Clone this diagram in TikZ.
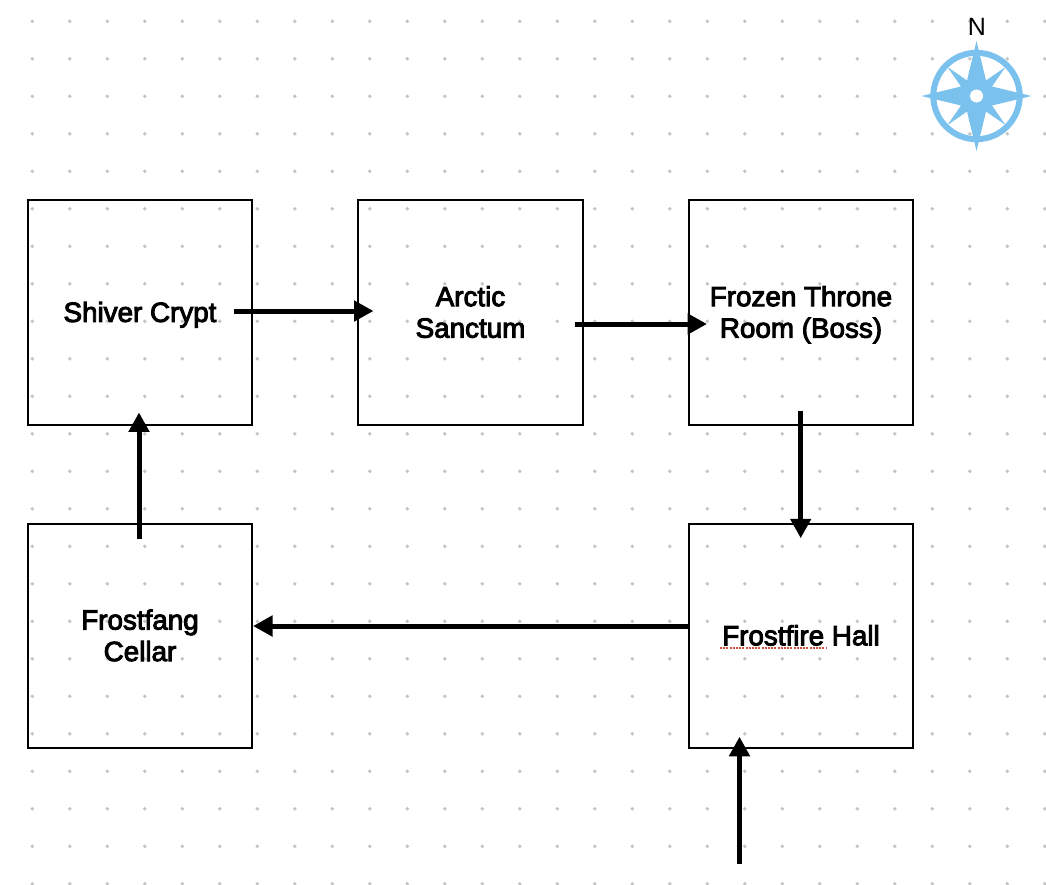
\documentclass[tikz,border=0pt]{standalone}
\usepackage{fontspec}
\setmainfont{Liberation Sans}
\newfontfamily\labelfont[FakeBold=3.4]{Liberation Sans}
\usetikzlibrary{arrows.meta,calc}
\newcommand{\roomtop}{\rule{0pt}{28.05pt}}
\definecolor{griddot}{HTML}{C4C4C4}
\definecolor{compassblue}{HTML}{7BC1EE}
\definecolor{spellred}{HTML}{D9503F}
\tikzset{
  room/.style={draw=black,line width=2pt,minimum width=224pt,minimum height=224.7pt,inner sep=0pt,outer sep=0pt,align=center,font=\labelfont\fontsize{27.8}{31.5}\selectfont,text=black},
  link/.style={draw=black,line width=5pt,-{Triangle[length=19.5pt,width=20pt]}},
}
\begin{document}
\begin{tikzpicture}[x=1pt,y=-1pt]
\useasboundingbox (0,0) rectangle (1046,884);
\fill[white] (0,0) rectangle (1046,884);
\foreach \i in {0,...,27}{\foreach \j in {0,...,23}{
  \fill[griddot] ({32.3+37.5*\i},{21.3+37.5*\j}) circle (1.9pt);
}}
\node[room] (shiver) at (140,312.6) {\roomtop Shiver Crypt\strut};
\node[room,minimum width=225pt] (arctic) at (470.5,312.6) {\roomtop Arctic\strut\\\strut Sanctum\strut};
\node[room] (frozen) at (801,312.6) {\roomtop Frozen Throne\strut\\\strut Room (Boss)\strut};
\node[room,minimum height=223.5pt] (cellar) at (140,636) {\roomtop Frostfang\strut\\\strut Cellar\strut};
\node[room,minimum height=223.5pt] (hall) at (801,636) {\roomtop Frostfire Hall\strut};
\coordinate (entry) at (739.5,864);
\draw[link] ($(shiver.east)+(-18,-1.6)$) -- ($(arctic.west)+(15.5,-1.6)$);
\draw[link] ($(arctic.east)+(-8,11.4)$) -- ($(frozen.west)+(18,11.4)$);
\draw[link] ($(frozen.south)+(-0.3,-14)$) -- ($(hall.north)+(-0.3,14)$);
\draw[link] ($(hall.west)+(0,-10)$) -- ($(cellar.east)+(1,-10)$);
\draw[link] ($(cellar.north)+(-1,15)$) -- ($(shiver.south)+(-1,-12.5)$);
\draw[link] (entry) -- ($(entry |- hall.south)+(0,-11)$);
\draw[spellred,line width=2pt,dash pattern=on 2pt off 1.2pt] (720,648.3) -- (826,648.3);
% compass
\coordinate (c) at (976.5,96);
\draw[compassblue,line width=6pt] (c) circle (43.2pt);
\fill[compassblue] ($(c)+(0,-55)$) -- ($(c)+(-9.5,-15.5)$) -- ($(c)+(-29,-29)$) -- ($(c)+(-15.5,-9.5)$)
  -- ($(c)+(-55,0)$) -- ($(c)+(-15.5,9.5)$) -- ($(c)+(-29,29)$) -- ($(c)+(-9.5,15.5)$)
  -- ($(c)+(0,55)$) -- ($(c)+(9.5,15.5)$) -- ($(c)+(29,29)$) -- ($(c)+(15.5,9.5)$)
  -- ($(c)+(55,0)$) -- ($(c)+(15.5,-9.5)$) -- ($(c)+(29,-29)$) -- ($(c)+(9.5,-15.5)$) -- cycle;
\fill[white] (c) circle (6.5pt);
\node[font=\fontsize{25}{30}\selectfont,inner sep=0pt] (north) at (977,27) {N};
\end{tikzpicture}
\end{document}
